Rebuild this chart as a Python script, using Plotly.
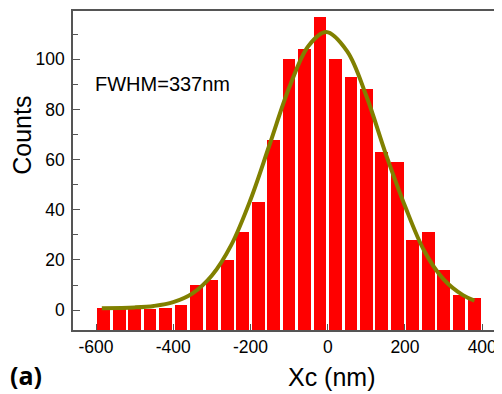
import plotly.graph_objects as go

# Histogram data (bin centres in nm, counts)
bin_centers = [-580, -540, -500, -460, -420, -380, -340, -300, -260, -220,
               -180, -140, -100, -60, -20, 20, 60, 100, 140, 180,
               220, 260, 300, 340, 380]
counts = [1, 0.3, 0.3, 0.5, 1, 2, 10, 12, 20, 31,
          43, 68, 100, 104, 117, 100, 93, 88, 63, 59,
          28, 31, 16, 6, 5]

# Gaussian fit curve
fit_x = [-585, -500, -450, -400, -350, -300, -250, -200, -150, -100,
         -50, -4, 50, 100, 150, 200, 250, 300, 350, 380]
fit_y = [0.8, 1.1, 1.7, 3.2, 6.7, 13.8, 25.9, 44.0, 66.2, 88.6,
         105.3, 110.8, 103.2, 85.3, 62.4, 41.5, 23.6, 12.3, 6.0, 3.8]

x_ticks = [-600, -400, -200, 0, 200, 400]
y_ticks = [0, 20, 40, 60, 80, 100]

XMIN, XMAX = -659.6, 451.2
YMIN, YMAX = -7.9, 119.2

FONT = "Liberation Sans, Arial, sans-serif"
AX = "#555555"

# page body has an 8px margin; plot area spans x 73..502, y 11..330.5 in the window
PW, PH = 429.0, 319.5

def px(x):
    return (x - 73) / PW

def py(y):
    return (330.5 - y) / PH

fig = go.Figure()
fig.add_trace(go.Bar(
    x=bin_centers,
    y=[c - YMIN for c in counts],
    base=YMIN,
    width=33,
    marker=dict(color="#FF0000", line=dict(width=0)),
    showlegend=False,
))
fig.add_trace(go.Scatter(
    x=fit_x, y=fit_y, mode="lines",
    line=dict(color="#808000", width=4, shape="spline", smoothing=1.0),
    showlegend=False,
))

fig.update_layout(
    width=494, height=386,
    margin=dict(l=65, r=0, t=3, b=63.5),
    paper_bgcolor="white", plot_bgcolor="white",
    font=dict(family=FONT, color="black"),
    bargap=0,
)
fig.update_xaxes(
    range=[XMIN, XMAX], tickvals=x_ticks, ticktext=[str(v) for v in x_ticks],
    showgrid=False, zeroline=False,
    showline=True, linecolor=AX, linewidth=1.6, mirror=True,
    ticks="inside", ticklen=6, tickcolor=AX, tickwidth=1.2,
    tickfont=dict(size=17.5, family=FONT, color="black"),
    layer="below traces",
)
fig.update_yaxes(
    range=[YMIN, YMAX], tickvals=y_ticks, ticktext=[str(v) for v in y_ticks],
    showgrid=False, zeroline=False,
    showline=True, linecolor=AX, linewidth=1.6,
    ticks="inside", ticklen=7, tickcolor=AX, tickwidth=1.2,
    minor=dict(dtick=10, tick0=0, ticks="inside", ticklen=5, tickcolor=AX, tickwidth=1.2),
    tickfont=dict(size=17.5, family=FONT, color="black"),
    ticklabelstandoff=3,
)

fig.add_annotation(text="FWHM=337nm", x=-608, y=90, xref="x", yref="y",
                   xanchor="left", yanchor="middle", showarrow=False,
                   font=dict(size=20, family=FONT, color="black"))
fig.add_annotation(text="Counts", x=px(22), y=py(136),
                   xref="paper", yref="paper", textangle=-90,
                   xanchor="center", yanchor="middle", showarrow=False,
                   font=dict(size=25, family=FONT, color="black"))
fig.add_annotation(text="Xc (nm)", x=px(331.5), y=py(378),
                   xref="paper", yref="paper",
                   xanchor="center", yanchor="middle", showarrow=False,
                   font=dict(size=25, family=FONT, color="black"))
fig.add_annotation(text="<b>(a)</b>", x=px(25.5), y=py(376),
                   xref="paper", yref="paper",
                   xanchor="center", yanchor="middle", showarrow=False,
                   font=dict(size=25, family="Open Sans, sans-serif", color="black"))

fig.write_html("out.html")
